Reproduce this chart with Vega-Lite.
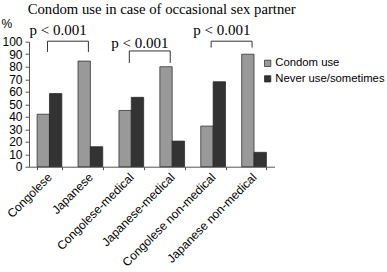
{
  "$schema": "https://vega.github.io/schema/vega-lite/v6.json",
  "autosize": "none",
  "width": 245.5,
  "height": 125,
  "padding": {"left": 29, "top": 41.7, "right": 112.5, "bottom": 105.3},
  "background": "white",
  "config": {
    "view": {"stroke": null},
    "font": "Liberation Sans",
    "axis": {"labelOverlap": false},
    "axisY": {"labelOverlap": false, "tickCount": 11}
  },
  "title": {
    "text": "Condom use in case of occasional sex partner",
    "font": "Liberation Serif",
    "fontSize": 14.7,
    "fontWeight": "normal",
    "color": "#000000",
    "anchor": "start",
    "frame": "group",
    "dx": -1.3,
    "dy": 16.5,
    "baseline": "alphabetic",
    "offset": 6
  },
  "datasets": {
    "bars": [
      {"group": "Congolese", "series": "Condom use", "value": 42},
      {"group": "Congolese", "series": "Never use/sometimes", "value": 58.5},
      {"group": "Japanese", "series": "Condom use", "value": 84.5},
      {"group": "Japanese", "series": "Never use/sometimes", "value": 16},
      {"group": "Congolese-medical", "series": "Condom use", "value": 45},
      {"group": "Congolese-medical", "series": "Never use/sometimes", "value": 55.5},
      {"group": "Japanese-medical", "series": "Condom use", "value": 80},
      {"group": "Japanese-medical", "series": "Never use/sometimes", "value": 20.5},
      {"group": "Congolese non-medical", "series": "Condom use", "value": 32.5},
      {"group": "Congolese non-medical", "series": "Never use/sometimes", "value": 68},
      {"group": "Japanese non-medical", "series": "Condom use", "value": 90},
      {"group": "Japanese non-medical", "series": "Never use/sometimes", "value": 11.5}
    ],
    "brackets": [
      {"bracket": 1, "group": "Congolese", "y": 91.8, "o": 1},
      {"bracket": 1, "group": "Congolese", "y": 100.4, "o": 2},
      {"bracket": 1, "group": "Japanese", "y": 100.4, "o": 3},
      {"bracket": 1, "group": "Japanese", "y": 91.8, "o": 4},
      {"bracket": 2, "group": "Congolese-medical", "y": 83, "o": 1},
      {"bracket": 2, "group": "Congolese-medical", "y": 92.6, "o": 2},
      {"bracket": 2, "group": "Japanese-medical", "y": 92.6, "o": 3},
      {"bracket": 2, "group": "Japanese-medical", "y": 83, "o": 4},
      {"bracket": 3, "group": "Congolese non-medical", "y": 95.3, "o": 1},
      {"bracket": 3, "group": "Congolese non-medical", "y": 100.4, "o": 2},
      {"bracket": 3, "group": "Japanese non-medical", "y": 100.4, "o": 3},
      {"bracket": 3, "group": "Japanese non-medical", "y": 95.3, "o": 4}
    ],
    "pvals": [
      {"group": "Congolese", "y": 105.2, "label": "p < 0.001"},
      {"group": "Congolese-medical", "y": 95, "label": "p < 0.001"},
      {"group": "Congolese non-medical", "y": 105.2, "label": "p < 0.001"}
    ]
  },
  "layer": [
    {
      "data": {"name": "bars"},
      "mark": {"type": "bar", "stroke": "#222222", "strokeWidth": 0.7},
      "encoding": {
        "x": {
          "field": "group",
          "type": "nominal",
          "sort": null,
          "scale": {
            "domain": ["Congolese", "Japanese", "Congolese-medical", "Japanese-medical", "Congolese non-medical", "Japanese non-medical"],
            "paddingInner": 0.395,
            "paddingOuter": 0.1975
          },
          "axis": {
            "title": null,
            "labelAngle": -45,
            "labelAlign": "right",
            "labelBaseline": "middle",
            "labelFont": "Liberation Sans",
            "labelFontSize": 12,
            "labelColor": "#000000",
            "labelPadding": 5,
            "tickBand": "extent",
            "tickSize": 3,
            "tickColor": "#555555",
            "domainColor": "#555555",
            "labelLimit": 300
          }
        },
        "xOffset": {
          "field": "series",
          "type": "nominal",
          "scale": {"paddingInner": 0, "paddingOuter": 0}
        },
        "y": {
          "field": "value",
          "type": "quantitative",
          "scale": {"domain": [0, 100], "nice": false},
          "axis": {
            "title": "%",
            "titleAngle": 0,
            "titleFont": "Liberation Sans",
            "titleFontSize": 12,
            "titleFontWeight": "normal",
            "titleColor": "#000000",
            "titleX": -28,
            "titleY": -14,
            "titleAlign": "left",
            "titleBaseline": "alphabetic",
            "values": [0, 10, 20, 30, 40, 50, 60, 70, 80, 90, 100],
            "labelOverlap": false,
            "tickCount": 11,
            "grid": false,
            "labelFont": "Liberation Sans",
            "labelFontSize": 12,
            "labelColor": "#000000",
            "labelPadding": 3,
            "tickSize": 4,
            "tickColor": "#555555",
            "domainColor": "#555555"
          }
        },
        "color": {
          "field": "series",
          "type": "nominal",
          "scale": {"domain": ["Condom use", "Never use/sometimes"], "range": ["#999999", "#333333"]},
          "legend": {
            "title": null,
            "orient": "none",
            "legendX": 233,
            "legendY": 16,
            "padding": 0,
            "symbolType": "square",
            "symbolSize": 40,
            "symbolStrokeColor": "#222222",
            "symbolStrokeWidth": 0.7,
            "labelFont": "Liberation Sans",
            "labelFontSize": 11.3,
            "labelColor": "#000000",
            "labelOffset": 2,
            "labelLimit": 300,
            "rowPadding": 3.5
          }
        }
      }
    },
    {
      "data": {"name": "brackets"},
      "mark": {"type": "line", "color": "#333333", "strokeWidth": 1, "clip": false},
      "encoding": {
        "x": {"field": "group", "type": "nominal", "bandPosition": 0.42},
        "y": {"field": "y", "type": "quantitative"},
        "detail": {"field": "bracket", "type": "nominal"},
        "order": {"field": "o", "type": "quantitative"}
      }
    },
    {
      "data": {"name": "pvals"},
      "mark": {"type": "text", "font": "Liberation Serif", "fontSize": 15, "color": "#000000", "baseline": "alphabetic", "align": "center", "clip": false},
      "encoding": {
        "x": {"field": "group", "type": "nominal", "bandPosition": 0.85},
        "y": {"field": "y", "type": "quantitative"},
        "text": {"field": "label"}
      }
    }
  ]
}
